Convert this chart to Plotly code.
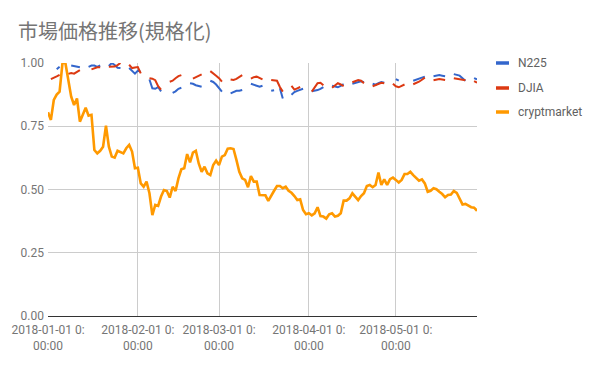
import pandas as pd
import plotly.graph_objects as go

title = "市場価格推移(規格化)"
series_names = ["N225", "DJIA", "cryptmarket"]
colors = ["#3366cc", "#dc3912", "#ff9900"]

dates = pd.date_range("2018-01-01", periods=149, freq="D")

N = None
n225 = [
    N, N, N, 0.975, 0.985, N, N,
    N, 0.99, 0.988, 0.985, 0.983, N, N,
    0.985, 0.99, 0.99, 0.985, 0.99, N, N,
    0.988, 1.0, 0.992, 0.981, 0.98, N, N,
    0.98, 0.97, 0.958, 0.97, 0.965, N, N,
    0.935, 0.90, 0.898, 0.905, 0.888, N, N,
    N, 0.882, 0.888, 0.898, 0.902, N, N,
    0.92, 0.918, 0.912, 0.91, 0.906, N, N,
    0.93, 0.925, 0.915, 0.90, 0.887, N, N,
    0.88, 0.885, 0.89, 0.89, 0.893, N, N,
    0.918, 0.914, 0.91, 0.906, 0.91, N, N,
    0.89, 0.892, N, 0.90, 0.86, N, N,
    0.875, 0.885, 0.89, 0.895, 0.898, N, N,
    0.888, 0.89, 0.893, 0.898, 0.905, N, N,
    0.91, 0.908, 0.904, 0.91, 0.916, N, N,
    0.918, 0.922, 0.926, 0.928, 0.924, N, N,
    0.918, 0.914, 0.92, 0.925, 0.922, N, N,
    N, 0.936, 0.93, N, N, N, N,
    0.93, 0.933, 0.937, 0.942, 0.946, N, N,
    0.948, 0.951, 0.952, 0.95, 0.948, N, N,
    0.956, 0.954, 0.95, 0.94, 0.93, N, N,
    0.94, 0.935,
]
djia = [
    N, 0.936, 0.94, 0.947, 0.953, N, N,
    0.957, 0.96, 0.958, 0.965, 0.972, N, N,
    N, 0.975, 0.98, 0.983, 0.983, N, N,
    0.985, 0.985, 0.986, 0.992, 1.0, N, N,
    0.993, 0.98, 0.982, 0.984, 0.959, N, N,
    0.94, 0.938, 0.932, 0.908, 0.895, N, N,
    0.926, 0.93, 0.94, 0.948, 0.952, N, N,
    N, 0.938, 0.943, 0.95, 0.955, N, N,
    0.968, 0.96, 0.95, 0.94, 0.926, N, N,
    0.935, 0.933, 0.937, 0.945, 0.952, N, N,
    0.938, 0.944, 0.946, 0.94, 0.935, N, N,
    0.933, 0.932, 0.93, 0.905, 0.887, N, N,
    0.91, 0.895, 0.90, 0.905, N, N, N,
    0.887, 0.905, 0.92, 0.922, 0.912, N, N,
    0.902, 0.912, 0.92, 0.915, 0.909, N, N,
    0.924, 0.93, 0.933, 0.93, 0.92, N, N,
    0.908, 0.912, 0.918, 0.922, 0.92, N, N,
    0.918, 0.908, 0.904, 0.908, 0.915, N, N,
    0.916, 0.92, 0.926, 0.934, 0.942, N, N,
    0.932, 0.935, 0.937, 0.935, 0.933, N, N,
    0.94, 0.938, 0.936, 0.934, 0.932, N, N,
    0.928, 0.922,
]
crypt = [
    0.805, 0.775, 0.854, 0.875, 0.887, 1.0, 1.0,
    0.94, 0.867, 0.834, 0.86, 0.768, 0.795, 0.823,
    0.792, 0.795, 0.656, 0.643, 0.653, 0.669, 0.752,
    0.669, 0.63, 0.626, 0.653, 0.647, 0.643, 0.663,
    0.676, 0.65, 0.584, 0.586, 0.524, 0.511, 0.531,
    0.485, 0.399, 0.439, 0.435, 0.472, 0.498, 0.494,
    0.468, 0.511, 0.494, 0.544, 0.58, 0.584, 0.64,
    0.607, 0.646, 0.653, 0.603, 0.57, 0.59, 0.564,
    0.557, 0.597, 0.614, 0.597, 0.63, 0.636, 0.661,
    0.663, 0.66, 0.617, 0.57, 0.544, 0.538, 0.509,
    0.553, 0.531, 0.531, 0.478, 0.478, 0.477, 0.455,
    0.478, 0.495, 0.514, 0.514, 0.505, 0.511, 0.495,
    0.487, 0.474, 0.458, 0.461, 0.419, 0.402, 0.406,
    0.398, 0.406, 0.43, 0.395, 0.393, 0.385, 0.402,
    0.406, 0.393, 0.396, 0.406, 0.456, 0.456, 0.465,
    0.485, 0.469, 0.458, 0.474, 0.485, 0.514, 0.518,
    0.509, 0.518, 0.567, 0.518, 0.54, 0.518, 0.541,
    0.547, 0.538, 0.528, 0.538, 0.561, 0.561, 0.57,
    0.557, 0.544, 0.535, 0.54, 0.524, 0.491, 0.495,
    0.505, 0.501, 0.491, 0.482, 0.469, 0.478, 0.48,
    0.494, 0.487, 0.465, 0.441, 0.443, 0.435, 0.43,
    0.428, 0.416,
]

x_tick_vals = ["2018-01-01", "2018-02-01", "2018-03-01", "2018-04-01", "2018-05-01"]
x_tick_text = [v + " 0:<br>00:00" for v in x_tick_vals]
y_tick_vals = [0, 0.25, 0.5, 0.75, 1.0]
y_tick_text = ["0.00", "0.25", "0.50", "0.75", "1.00"]

W, H = 600, 371
L, R, T, B = 48, 123, 63, 55
PW, PH = W - L - R, H - T - B

fig = go.Figure()
for name, vals, col, wd in zip(series_names, [n225, djia, crypt], colors, [2, 2, 2.6]):
    fig.add_trace(go.Scatter(x=dates, y=vals, mode="lines", name=name,
                             line=dict(color=col, width=wd), connectgaps=False,
                             showlegend=False))

font_fam = "Roboto, 'Noto Sans CJK JP', sans-serif"
fig.update_layout(
    width=W, height=H,
    margin=dict(l=L, r=R, t=T, b=B, autoexpand=False),
    paper_bgcolor="white", plot_bgcolor="white",
    font=dict(family=font_fam, size=12, color="#757575"),
    title=dict(text=title, x=18 / W, xanchor="left", y=1 - 32 / H, yanchor="middle",
               automargin=False,
               font=dict(family="'Noto Sans CJK JP', sans-serif", size=20, color="#757575")),
    xaxis=dict(range=[dates[0], dates[-1]], tickvals=x_tick_vals, ticktext=x_tick_text,
               showgrid=True, gridcolor="#cccccc", gridwidth=1, ticks="",
               showline=False, zeroline=False, tickangle=0, automargin=False,
               ticklabelstandoff=5,
               tickfont=dict(size=12, color="#757575")),
    yaxis=dict(range=[0, 1], tickvals=y_tick_vals, ticktext=y_tick_text,
               showgrid=True, gridcolor="#cccccc", gridwidth=1, ticks="",
               zeroline=True, zerolinecolor="#333333", zerolinewidth=1,
               showline=False, automargin=False, ticklabelstandoff=3,
               tickfont=dict(size=12, color="#757575")),
)

# legend (manual, Google-chart style)
def px2paper(px, py):
    return (px - L) / PW, (H - B - py) / PH

leg_y = [63, 88, 112]
for name, col, py in zip(series_names, colors, leg_y):
    x0, y0 = px2paper(496, py)
    x1, _ = px2paper(509, py)
    fig.add_shape(type="line", xref="paper", yref="paper", x0=x0, x1=x1, y0=y0, y1=y0,
                  line=dict(color=col, width=3.5))
    tx, ty = px2paper(516, py)
    fig.add_annotation(text=name, xref="paper", yref="paper", x=tx, y=ty,
                       xanchor="left", yanchor="middle", showarrow=False,
                       font=dict(size=12, color="#616161", family=font_fam))

fig.write_html("out.html", config={"displayModeBar": False},
               post_script="document.body.style.margin='0';document.body.style.overflow='hidden';")
